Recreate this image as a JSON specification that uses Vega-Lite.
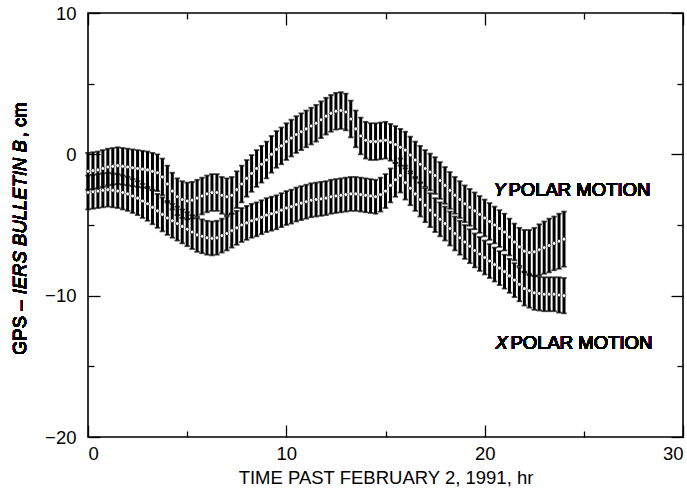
{
  "$schema": "https://vega.github.io/schema/vega-lite/v6.json",
  "width": 595,
  "height": 424,
  "autosize": {"type": "none"},
  "padding": {"left": 88, "top": 13, "right": 4, "bottom": 63},
  "background": "white",
  "config": {
    "view": {"stroke": "black", "strokeWidth": 1.6},
    "font": "Liberation Sans",
    "axis": {
      "grid": false,
      "domain": false,
      "ticks": true,
      "tickColor": "black",
      "tickWidth": 1.3,
      "labelColor": "black",
      "labelFont": "Liberation Sans",
      "labelFontSize": 18.5,
      "titleFont": "Liberation Sans",
      "titleFontSize": 18.5,
      "titleFontWeight": "normal",
      "titleColor": "black",
      "labelOverlap": false,
      "zindex": 1
    }
  },
  "data": {
    "values": [
      {"t":0,"s":"Y","v":-1.2,"e":1.3},{"t":0.25,"s":"Y","v":-1.15,"e":1.3},{"t":0.5,"s":"Y","v":-1.1,"e":1.3},{"t":0.75,"s":"Y","v":-1.0,"e":1.3},
      {"t":1,"s":"Y","v":-0.9,"e":1.3},{"t":1.25,"s":"Y","v":-0.85,"e":1.3},{"t":1.5,"s":"Y","v":-0.8,"e":1.3},{"t":1.75,"s":"Y","v":-0.85,"e":1.3},
      {"t":2,"s":"Y","v":-0.9,"e":1.3},{"t":2.25,"s":"Y","v":-0.95,"e":1.3},{"t":2.5,"s":"Y","v":-1.0,"e":1.3},{"t":2.75,"s":"Y","v":-1.05,"e":1.3},
      {"t":3,"s":"Y","v":-1.1,"e":1.3},{"t":3.25,"s":"Y","v":-1.2,"e":1.3},{"t":3.5,"s":"Y","v":-1.3,"e":1.3},{"t":3.75,"s":"Y","v":-1.6,"e":1.3},
      {"t":4,"s":"Y","v":-2.1,"e":1.3},{"t":4.25,"s":"Y","v":-2.6,"e":1.3},{"t":4.5,"s":"Y","v":-3.0,"e":1.3},{"t":4.75,"s":"Y","v":-3.2,"e":1.3},
      {"t":5,"s":"Y","v":-3.3,"e":1.3},{"t":5.25,"s":"Y","v":-3.25,"e":1.3},{"t":5.5,"s":"Y","v":-3.1,"e":1.3},{"t":5.75,"s":"Y","v":-2.95,"e":1.3},
      {"t":6,"s":"Y","v":-2.8,"e":1.3},{"t":6.25,"s":"Y","v":-2.7,"e":1.3},{"t":6.5,"s":"Y","v":-2.7,"e":1.3},{"t":6.75,"s":"Y","v":-2.9,"e":1.3},
      {"t":7,"s":"Y","v":-3.0,"e":1.3},{"t":7.25,"s":"Y","v":-2.9,"e":1.3},{"t":7.5,"s":"Y","v":-2.5,"e":1.3},{"t":7.75,"s":"Y","v":-2.1,"e":1.3},
      {"t":8,"s":"Y","v":-1.7,"e":1.3},{"t":8.25,"s":"Y","v":-1.35,"e":1.3},{"t":8.5,"s":"Y","v":-1.0,"e":1.3},{"t":8.75,"s":"Y","v":-0.7,"e":1.3},
      {"t":9,"s":"Y","v":-0.4,"e":1.3},{"t":9.25,"s":"Y","v":0.0,"e":1.3},{"t":9.5,"s":"Y","v":0.35,"e":1.3},{"t":9.75,"s":"Y","v":0.6,"e":1.3},
      {"t":10,"s":"Y","v":0.9,"e":1.3},{"t":10.25,"s":"Y","v":1.15,"e":1.3},{"t":10.5,"s":"Y","v":1.4,"e":1.3},{"t":10.75,"s":"Y","v":1.6,"e":1.3},
      {"t":11,"s":"Y","v":1.8,"e":1.3},{"t":11.25,"s":"Y","v":2.0,"e":1.3},{"t":11.5,"s":"Y","v":2.2,"e":1.3},{"t":11.75,"s":"Y","v":2.45,"e":1.3},
      {"t":12,"s":"Y","v":2.7,"e":1.3},{"t":12.25,"s":"Y","v":2.9,"e":1.3},{"t":12.5,"s":"Y","v":3.05,"e":1.3},{"t":12.75,"s":"Y","v":3.1,"e":1.3},
      {"t":13,"s":"Y","v":3.0,"e":1.3},{"t":13.25,"s":"Y","v":2.5,"e":1.3},{"t":13.5,"s":"Y","v":1.8,"e":1.3},{"t":13.75,"s":"Y","v":1.3,"e":1.3},
      {"t":14,"s":"Y","v":1.0,"e":1.3},{"t":14.25,"s":"Y","v":0.9,"e":1.3},{"t":14.5,"s":"Y","v":0.9,"e":1.3},{"t":14.75,"s":"Y","v":0.95,"e":1.3},
      {"t":15,"s":"Y","v":1.0,"e":1.3},{"t":15.25,"s":"Y","v":0.85,"e":1.3},{"t":15.5,"s":"Y","v":0.7,"e":1.3},{"t":15.75,"s":"Y","v":0.5,"e":1.3},
      {"t":16,"s":"Y","v":0.3,"e":1.3},{"t":16.25,"s":"Y","v":-0.05,"e":1.3},{"t":16.5,"s":"Y","v":-0.4,"e":1.3},{"t":16.75,"s":"Y","v":-0.7,"e":1.3},
      {"t":17,"s":"Y","v":-1.0,"e":1.3},{"t":17.25,"s":"Y","v":-1.25,"e":1.3},{"t":17.5,"s":"Y","v":-1.5,"e":1.3},{"t":17.75,"s":"Y","v":-1.85,"e":1.3},
      {"t":18,"s":"Y","v":-2.2,"e":1.3},{"t":18.25,"s":"Y","v":-2.55,"e":1.3},{"t":18.5,"s":"Y","v":-2.9,"e":1.3},{"t":18.75,"s":"Y","v":-3.2,"e":1.3},
      {"t":19,"s":"Y","v":-3.5,"e":1.3},{"t":19.25,"s":"Y","v":-3.75,"e":1.3},{"t":19.5,"s":"Y","v":-4.0,"e":1.3},{"t":19.75,"s":"Y","v":-4.25,"e":1.3},
      {"t":20,"s":"Y","v":-4.5,"e":1.3},{"t":20.25,"s":"Y","v":-4.75,"e":1.3},{"t":20.5,"s":"Y","v":-5.0,"e":1.3},{"t":20.75,"s":"Y","v":-5.25,"e":1.3},
      {"t":21,"s":"Y","v":-5.5,"e":1.3},{"t":21.25,"s":"Y","v":-5.85,"e":1.3},{"t":21.5,"s":"Y","v":-6.2,"e":1.3},{"t":21.75,"s":"Y","v":-6.55,"e":1.35},
      {"t":22,"s":"Y","v":-6.85,"e":1.5},{"t":22.25,"s":"Y","v":-6.95,"e":1.6},{"t":22.5,"s":"Y","v":-6.9,"e":1.7},{"t":22.75,"s":"Y","v":-6.75,"e":1.8},
      {"t":23,"s":"Y","v":-6.6,"e":1.85},{"t":23.25,"s":"Y","v":-6.45,"e":1.9},{"t":23.5,"s":"Y","v":-6.3,"e":1.9},{"t":23.75,"s":"Y","v":-6.15,"e":1.95},
      {"t":24,"s":"Y","v":-6.0,"e":1.95},

      {"t":0,"s":"X","v":-2.7,"e":1.2},{"t":0.25,"s":"X","v":-2.65,"e":1.2},{"t":0.5,"s":"X","v":-2.6,"e":1.2},{"t":0.75,"s":"X","v":-2.55,"e":1.2},
      {"t":1,"s":"X","v":-2.5,"e":1.2},{"t":1.25,"s":"X","v":-2.55,"e":1.2},{"t":1.5,"s":"X","v":-2.6,"e":1.2},{"t":1.75,"s":"X","v":-2.7,"e":1.2},
      {"t":2,"s":"X","v":-2.8,"e":1.2},{"t":2.25,"s":"X","v":-2.95,"e":1.2},{"t":2.5,"s":"X","v":-3.1,"e":1.2},{"t":2.75,"s":"X","v":-3.3,"e":1.2},
      {"t":3,"s":"X","v":-3.5,"e":1.2},{"t":3.25,"s":"X","v":-3.75,"e":1.2},{"t":3.5,"s":"X","v":-4.0,"e":1.2},{"t":3.75,"s":"X","v":-4.25,"e":1.2},
      {"t":4,"s":"X","v":-4.5,"e":1.2},{"t":4.25,"s":"X","v":-4.7,"e":1.2},{"t":4.5,"s":"X","v":-4.9,"e":1.2},{"t":4.75,"s":"X","v":-5.1,"e":1.2},
      {"t":5,"s":"X","v":-5.3,"e":1.2},{"t":5.25,"s":"X","v":-5.5,"e":1.2},{"t":5.5,"s":"X","v":-5.7,"e":1.2},{"t":5.75,"s":"X","v":-5.8,"e":1.2},
      {"t":6,"s":"X","v":-5.9,"e":1.2},{"t":6.25,"s":"X","v":-5.95,"e":1.2},{"t":6.5,"s":"X","v":-5.9,"e":1.2},{"t":6.75,"s":"X","v":-5.75,"e":1.2},
      {"t":7,"s":"X","v":-5.6,"e":1.2},{"t":7.25,"s":"X","v":-5.4,"e":1.2},{"t":7.5,"s":"X","v":-5.2,"e":1.2},{"t":7.75,"s":"X","v":-5.0,"e":1.2},
      {"t":8,"s":"X","v":-4.85,"e":1.2},{"t":8.25,"s":"X","v":-4.7,"e":1.2},{"t":8.5,"s":"X","v":-4.6,"e":1.2},{"t":8.75,"s":"X","v":-4.45,"e":1.2},
      {"t":9,"s":"X","v":-4.3,"e":1.2},{"t":9.25,"s":"X","v":-4.2,"e":1.2},{"t":9.5,"s":"X","v":-4.1,"e":1.2},{"t":9.75,"s":"X","v":-3.95,"e":1.2},
      {"t":10,"s":"X","v":-3.8,"e":1.2},{"t":10.25,"s":"X","v":-3.7,"e":1.2},{"t":10.5,"s":"X","v":-3.55,"e":1.2},{"t":10.75,"s":"X","v":-3.45,"e":1.2},
      {"t":11,"s":"X","v":-3.35,"e":1.2},{"t":11.25,"s":"X","v":-3.25,"e":1.2},{"t":11.5,"s":"X","v":-3.2,"e":1.2},{"t":11.75,"s":"X","v":-3.15,"e":1.2},
      {"t":12,"s":"X","v":-3.1,"e":1.2},{"t":12.25,"s":"X","v":-3.0,"e":1.2},{"t":12.5,"s":"X","v":-2.95,"e":1.2},{"t":12.75,"s":"X","v":-2.9,"e":1.2},
      {"t":13,"s":"X","v":-2.85,"e":1.2},{"t":13.25,"s":"X","v":-2.8,"e":1.2},{"t":13.5,"s":"X","v":-2.8,"e":1.2},{"t":13.75,"s":"X","v":-2.85,"e":1.2},
      {"t":14,"s":"X","v":-2.9,"e":1.2},{"t":14.25,"s":"X","v":-2.95,"e":1.2},{"t":14.5,"s":"X","v":-3.0,"e":1.2},{"t":14.75,"s":"X","v":-2.85,"e":1.2},
      {"t":15,"s":"X","v":-2.6,"e":1.2},{"t":15.25,"s":"X","v":-2.2,"e":1.2},{"t":15.5,"s":"X","v":-1.8,"e":1.2},{"t":15.75,"s":"X","v":-1.5,"e":1.2},
      {"t":16,"s":"X","v":-2.0,"e":1.2},{"t":16.25,"s":"X","v":-2.4,"e":1.2},{"t":16.5,"s":"X","v":-2.8,"e":1.2},{"t":16.75,"s":"X","v":-3.2,"e":1.2},
      {"t":17,"s":"X","v":-3.6,"e":1.2},{"t":17.25,"s":"X","v":-3.95,"e":1.2},{"t":17.5,"s":"X","v":-4.3,"e":1.2},{"t":17.75,"s":"X","v":-4.6,"e":1.2},
      {"t":18,"s":"X","v":-4.9,"e":1.2},{"t":18.25,"s":"X","v":-5.25,"e":1.2},{"t":18.5,"s":"X","v":-5.6,"e":1.2},{"t":18.75,"s":"X","v":-5.9,"e":1.2},
      {"t":19,"s":"X","v":-6.2,"e":1.2},{"t":19.25,"s":"X","v":-6.5,"e":1.2},{"t":19.5,"s":"X","v":-6.8,"e":1.2},{"t":19.75,"s":"X","v":-7.05,"e":1.2},
      {"t":20,"s":"X","v":-7.3,"e":1.2},{"t":20.25,"s":"X","v":-7.55,"e":1.2},{"t":20.5,"s":"X","v":-7.8,"e":1.2},{"t":20.75,"s":"X","v":-8.05,"e":1.2},
      {"t":21,"s":"X","v":-8.3,"e":1.2},{"t":21.25,"s":"X","v":-8.6,"e":1.2},{"t":21.5,"s":"X","v":-8.9,"e":1.2},{"t":21.75,"s":"X","v":-9.2,"e":1.2},
      {"t":22,"s":"X","v":-9.5,"e":1.2},{"t":22.25,"s":"X","v":-9.65,"e":1.2},{"t":22.5,"s":"X","v":-9.8,"e":1.2},{"t":22.75,"s":"X","v":-9.85,"e":1.2},
      {"t":23,"s":"X","v":-9.9,"e":1.2},{"t":23.25,"s":"X","v":-9.9,"e":1.2},{"t":23.5,"s":"X","v":-9.9,"e":1.2},{"t":23.75,"s":"X","v":-9.95,"e":1.25},
      {"t":24,"s":"X","v":-10.0,"e":1.25}
    ]
  },
  "layer": [
    {
      "mark": {"type": "errorbar", "color": "black", "thickness": 3, "ticks": {"size": 5.5, "thickness": 1.8}},
      "encoding": {
        "x": {
          "field": "t", "type": "quantitative",
          "scale": {"domain": [0, 30], "nice": false},
          "axis": {
            "orient": "bottom",
            "values": [0, 10, 20, 30],
            "tickSize": -12,
            "labelPadding": 19,
            "title": "TIME PAST FEBRUARY 2, 1991, hr",
            "titlePadding": 6
          }
        },
        "y": {
          "field": "v", "type": "quantitative",
          "scale": {"domain": [-20, 10], "nice": false, "zero": false},
          "axis": {
            "orient": "left",
            "values": [-20, -10, 0, 10],
            "tickSize": -12,
            "labelPadding": 24,
            "title": null
          }
        },
        "yError": {"field": "e"},
        "detail": {"field": "s"}
      }
    },
    {
      "mark": {"type": "point", "shape": "circle", "filled": true, "fill": "white", "stroke": "black", "strokeWidth": 0.5, "opacity": 1, "size": 13},
      "encoding": {
        "x": {
          "field": "t", "type": "quantitative",
          "axis": {"orient": "top", "values": [0, 10, 20, 30], "labels": false, "tickSize": -12, "title": null}
        },
        "y": {
          "field": "v", "type": "quantitative",
          "axis": {"orient": "right", "values": [-20, -10, 0, 10], "labels": false, "tickSize": -12, "title": null}
        }
      }
    },
    {
      "mark": {"type": "point", "opacity": 0, "size": 1},
      "encoding": {
        "x": {
          "field": "t", "type": "quantitative",
          "axis": {"orient": "bottom", "values": [5, 15, 25], "labels": false, "tickSize": -6, "title": null}
        },
        "y": {
          "field": "v", "type": "quantitative",
          "axis": {"orient": "left", "values": [-15, -5, 5], "labels": false, "tickSize": -6, "title": null}
        }
      }
    },
    {
      "mark": {"type": "point", "opacity": 0, "size": 1},
      "encoding": {
        "x": {
          "field": "t", "type": "quantitative",
          "axis": {"orient": "top", "values": [5, 15, 25], "labels": false, "tickSize": -6, "title": null}
        },
        "y": {
          "field": "v", "type": "quantitative",
          "axis": {"orient": "right", "values": [-15, -5, 5], "labels": false, "tickSize": -6, "title": null}
        }
      }
    },
    {
      "mark": {"type": "text", "text": "Y", "fontStyle": "italic", "fontSize": 18.5, "align": "left", "baseline": "middle", "color": "black"},
      "encoding": {"x": {"datum": 20.45, "type": "quantitative", "axis": null}, "y": {"datum": -2.5, "type": "quantitative", "axis": null}}
    },
    {
      "mark": {"type": "text", "text": "POLAR MOTION", "fontSize": 18.5, "align": "left", "baseline": "middle", "color": "black"},
      "encoding": {"x": {"datum": 21.2, "type": "quantitative", "axis": null}, "y": {"datum": -2.5, "type": "quantitative", "axis": null}}
    },
    {
      "mark": {"type": "text", "text": "X", "fontStyle": "italic", "fontSize": 18.5, "align": "left", "baseline": "middle", "color": "black"},
      "encoding": {"x": {"datum": 20.55, "type": "quantitative", "axis": null}, "y": {"datum": -13.35, "type": "quantitative", "axis": null}}
    },
    {
      "mark": {"type": "text", "text": "POLAR MOTION", "fontSize": 18.5, "align": "left", "baseline": "middle", "color": "black"},
      "encoding": {"x": {"datum": 21.3, "type": "quantitative", "axis": null}, "y": {"datum": -13.35, "type": "quantitative", "axis": null}}
    },
    {
      "mark": {"type": "text", "text": "GPS – ", "fontSize": 18.5, "angle": 270, "align": "left", "baseline": "middle", "color": "black"},
      "encoding": {"x": {"datum": -3.45, "type": "quantitative", "axis": null}, "y": {"datum": -14.2, "type": "quantitative", "axis": null}}
    },
    {
      "mark": {"type": "text", "text": "IERS BULLETIN B", "fontStyle": "italic", "fontSize": 18.5, "angle": 270, "align": "left", "baseline": "middle", "color": "black"},
      "encoding": {"x": {"datum": -3.45, "type": "quantitative", "axis": null}, "y": {"datum": -9.9, "type": "quantitative", "axis": null}}
    },
    {
      "mark": {"type": "text", "text": ", cm", "fontSize": 18.5, "angle": 270, "align": "left", "baseline": "middle", "color": "black"},
      "encoding": {"x": {"datum": -3.45, "type": "quantitative", "axis": null}, "y": {"datum": 1.2, "type": "quantitative", "axis": null}}
    }
  ],
  "resolve": {"axis": {"x": "independent", "y": "independent"}}
}
